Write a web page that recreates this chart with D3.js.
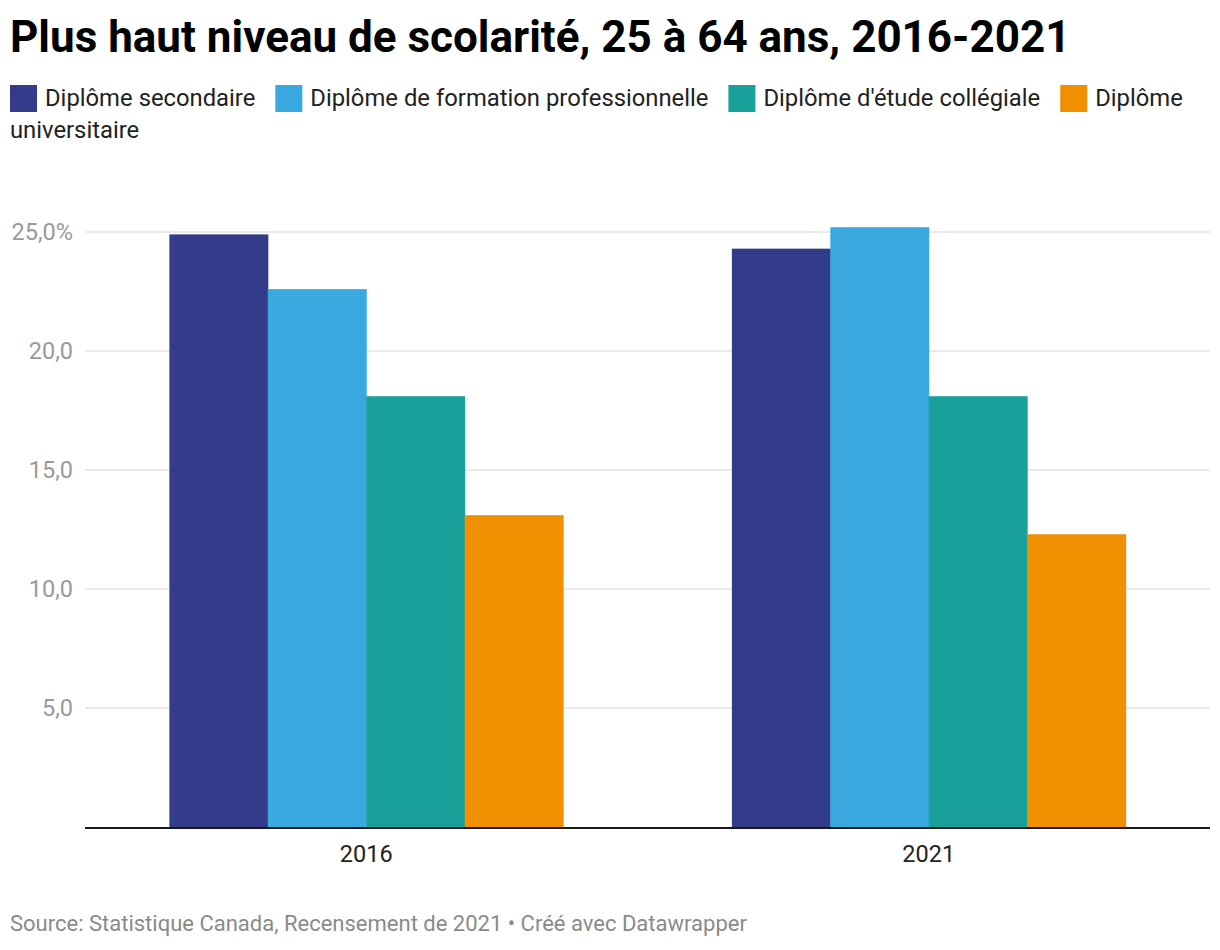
<!DOCTYPE html>
<html>
<head>
<meta charset="utf-8">
<script src="https://cdn.jsdelivr.net/npm/d3@7"></script>
<style>
body { margin: 0; background: #fff; font-family: Roboto, "Noto Sans", sans-serif; }
</style>
</head>
<body>
<div id="chart"></div>
<script>
const years = ['2016', '2021']
const seriesNames = ['Diplôme secondaire', 'Diplôme de formation professionnelle', "Diplôme d'étude collégiale", 'Diplôme universitaire']
const colors = ['#323c8a', '#3aa9e0', '#19a09b', '#f08f00']
const values2016 = [24.9, 22.6, 18.1, 13.1]
const values2021 = [24.3, 25.2, 18.1, 12.3]
const yTicks = [5, 10, 15, 20, 25]

const data = years.map((y, i) => ({ year: y, values: i === 0 ? values2016 : values2021 }))

let width = 1220
let height = 950

let svg = d3.select('#chart').append('svg')
.attr('width', width)
.attr('height', height)

svg.append('text')
.attr('x', 10)
.attr('y', 52)
.style('font-size', '44px')
.style('font-weight', 700)
.style('fill', '#000')
.text('Plus haut niveau de scolarité, 25 à 64 ans, 2016-2021')

// legend, words flow and wrap like html text
let legend = svg.append('g').style('font-size', '23.8px').style('fill', '#222')
let lx = 10, ly = 106
const maxX = 1210
seriesNames.forEach((name, i) => {
	if (lx + 28 > maxX) { lx = 10; ly += 32 }
	legend.append('rect')
	.attr('x', lx).attr('y', ly - 21)
	.attr('width', 27).attr('height', 27)
	.attr('fill', colors[i])
	lx += 35
	name.split(' ').forEach((w, j) => {
		let t = legend.append('text').attr('x', lx).attr('y', ly).text(w)
		let tw = t.node().getComputedTextLength()
		if (lx + tw > maxX) {
			lx = 10; ly += 32
			t.attr('x', lx).attr('y', ly)
		}
		lx += tw + 6
	})
	lx += 14
})

let x0 = d3.scaleBand()
.domain(years)
.range([85, 1210])
.paddingInner(0.3)
.paddingOuter(0.15)

let x1 = d3.scaleBand()
.domain(d3.range(seriesNames.length))
.range([0, x0.bandwidth()])

let y = d3.scaleLinear()
.domain([0, 25])
.range([827, 232])

let grid = svg.append('g')
grid.selectAll('line')
.data(yTicks)
.enter()
.append('line')
.attr('x1', 85).attr('x2', 1210)
.attr('y1', d => y(d)).attr('y2', d => y(d))
.attr('stroke', '#e3e3e3')
.attr('stroke-width', 1.5)

grid.selectAll('text')
.data(yTicks)
.enter()
.append('text')
.attr('x', 73)
.attr('y', d => y(d) + 8)
.attr('text-anchor', 'end')
.style('font-size', '23.5px')
.style('fill', '#9a9a9a')
.text(d => d3.format('.1f')(d).replace('.', ',') + (d === 25 ? '%' : ''))

let groups = svg.append('g').selectAll('g')
.data(data)
.enter()
.append('g')
.attr('transform', d => `translate(${x0(d.year)},0)`)

groups.selectAll('rect')
.data(d => d.values)
.enter()
.append('rect')
.attr('x', (d, i) => x1(i))
.attr('width', x1.bandwidth() + 0.5)
.attr('y', d => y(d))
.attr('height', d => y(0) - y(d))
.attr('fill', (d, i) => colors[i])

svg.append('line')
.attr('x1', 85).attr('x2', 1210)
.attr('y1', y(0) + 1).attr('y2', y(0) + 1)
.attr('stroke', '#1a1a1a')
.attr('stroke-width', 2)

svg.append('g').selectAll('text')
.data(years)
.enter()
.append('text')
.attr('x', d => x0(d) + x0.bandwidth() / 2)
.attr('y', 862)
.attr('text-anchor', 'middle')
.style('font-size', '23.5px')
.style('fill', '#222')
.text(d => d)

svg.append('text')
.attr('x', 10)
.attr('y', 931)
.style('font-size', '22px')
.style('fill', '#8a8a8a')
.text('Source: Statistique Canada, Recensement de 2021 • Créé avec Datawrapper')
</script>
</body>
</html>
